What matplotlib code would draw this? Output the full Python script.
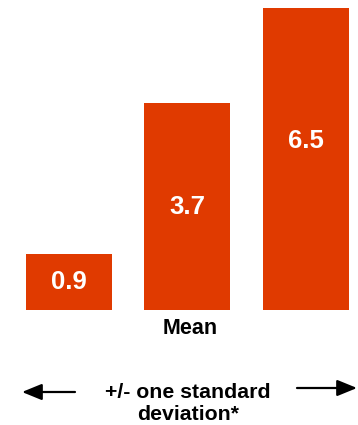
import matplotlib
matplotlib.use('Agg')
import matplotlib.pyplot as plt

# values printed on the bars and the (schematic) drawn heights
labels = ['0.9', '3.7', '6.5']
heights = [1.2, 4.45, 6.5]
label_frac = [0.5, 0.5, 0.56]
x_pos = [0, 1, 2]
category = 'Mean'
note = '+/- one standard\ndeviation*'

bar_color = '#E03A00'

plt.rcParams['font.family'] = ['Liberation Sans', 'DejaVu Sans']

fig = plt.figure(figsize=(3.58, 4.25), dpi=100)
ax = fig.add_axes([0, 1 - 310 / 425, 1, 310 / 425])

ax.bar(x_pos, heights, width=0.726, color=bar_color)
for x, h, lab, f in zip(x_pos, heights, labels, label_frac):
    ax.text(x, h * f, lab, color='white', fontsize=18.5, fontweight='bold',
            ha='center', va='center')

ax.set_xlim(-0.582, 2.439)
ax.set_ylim(0, 6.5 * 310 / 302)
ax.axis('off')

fig.text(190 / 358, 1 - 329 / 425, category, fontsize=15.5, fontweight='bold',
         ha='center', va='center')
fig.text(188 / 358, 1 - 403 / 425, note, fontsize=15.3, fontweight='bold',
         ha='center', va='center', linespacing=1.2)

arrow = dict(arrowstyle='-|>,head_length=1.1,head_width=0.45', lw=1.6,
             color='black', mutation_scale=11, shrinkA=0, shrinkB=0)
fig.add_artist(plt.Annotation('', xy=(22 / 358, 1 - 392 / 425), xycoords='figure fraction',
                              xytext=(75 / 358, 1 - 392 / 425), textcoords='figure fraction',
                              arrowprops=arrow))
fig.add_artist(plt.Annotation('', xy=(357 / 358, 1 - 388 / 425), xycoords='figure fraction',
                              xytext=(297 / 358, 1 - 388 / 425), textcoords='figure fraction',
                              arrowprops=arrow))

fig.savefig('out.png', dpi=100)
